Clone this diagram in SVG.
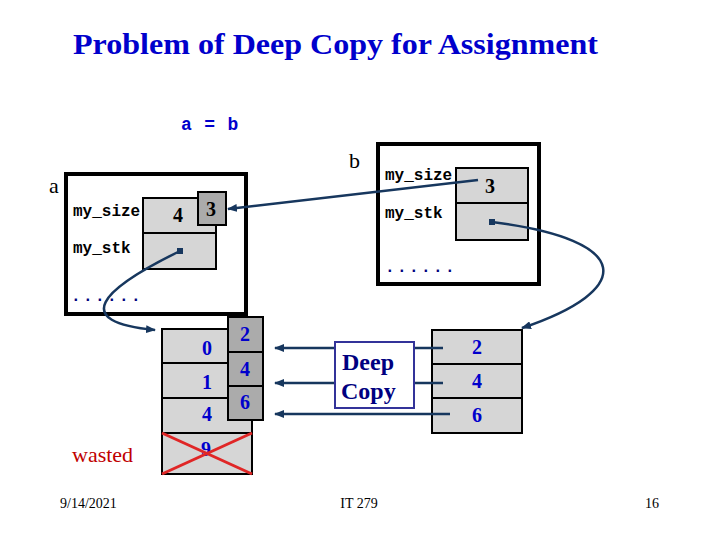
<svg xmlns="http://www.w3.org/2000/svg" width="720" height="540" viewBox="0 0 720 540">
<style>
.mono{font-family:"Liberation Mono","Courier New",monospace;font-weight:bold;font-size:16px;fill:#000}
.dots{font-family:"Liberation Mono","Courier New",monospace;font-weight:bold;font-size:16px;fill:#000080;letter-spacing:2.4px}
.num{font-family:"Liberation Serif","Times New Roman",serif;font-weight:bold;font-size:20px;text-anchor:middle}
.blue{fill:#0000cc}
.lbl{font-family:"Liberation Serif","Times New Roman",serif;font-size:22px;fill:#000}
.foot{font-family:"Liberation Serif","Times New Roman",serif;font-size:14px;fill:#000}
.serifb{font-family:"Liberation Serif","Times New Roman",serif;font-weight:bold}
.outer{fill:#fff;stroke:#000;stroke-width:4}
.cell{fill:#d6d6d6;stroke:#000;stroke-width:2}
.dark{fill:#ababab;stroke:#000;stroke-width:2}
.conn{fill:none;stroke:#17375e;stroke-width:2.5}
</style>
<defs>
<marker id="ah" markerUnits="userSpaceOnUse" markerWidth="10" markerHeight="8" refX="9" refY="4" orient="auto">
<path d="M0,0 L10,4 L0,8 Z" fill="#17375e"/>
</marker>
<marker id="dot" markerUnits="userSpaceOnUse" markerWidth="6" markerHeight="6" refX="3" refY="3">
<rect x="0" y="0" width="6" height="6" fill="#17375e"/>
</marker>
</defs>
<rect width="720" height="540" fill="#fff"/>
<text x="73" y="54" class="serifb" font-size="30" fill="#0000cc" textLength="525" lengthAdjust="spacingAndGlyphs">Problem of Deep Copy for Assignment</text>
<text x="181" y="130" font-family="Liberation Mono,Courier New,monospace" font-weight="bold" font-size="18" fill="#0000cc" letter-spacing="0.8">a = b</text>

<g id="objA">
<text x="49" y="193" class="lbl">a</text>
<rect x="66" y="174" width="180" height="140" class="outer"/>
<text x="73" y="216" class="mono">my_size</text>
<text x="73" y="253" class="mono">my_stk</text>
<rect x="143" y="198" width="73" height="35" class="cell"/>
<rect x="143" y="233" width="73" height="36" class="cell"/>
<text x="178" y="222" class="num">4</text>
<rect x="198" y="192" width="28" height="33" class="dark"/>
<text x="211" y="216" class="num">3</text>
<text x="71" y="301" class="dots">......</text>
</g>

<g id="objB">
<text x="349" y="168" class="lbl">b</text>
<rect x="378" y="144" width="161" height="140" class="outer"/>
<text x="385" y="180" class="mono">my_size</text>
<text x="385" y="218" class="mono">my_stk</text>
<rect x="456" y="168" width="72" height="35" class="cell"/>
<rect x="456" y="203" width="72" height="37" class="cell"/>
<text x="490" y="193" class="num">3</text>
<text x="385" y="272" class="dots">......</text>
</g>

<g id="leftArray">
<rect x="162" y="329" width="90" height="34" class="cell"/>
<rect x="162" y="363" width="90" height="35" class="cell"/>
<rect x="162" y="398" width="90" height="35" class="cell"/>
<rect x="162" y="433" width="90" height="41" class="cell"/>
<text x="207" y="355" class="num blue">0</text>
<text x="207" y="389" class="num blue">1</text>
<text x="207" y="421" class="num blue">4</text>
<text x="206" y="456" class="num blue">9</text>
<line x1="162" y1="433" x2="252" y2="474" stroke="#e02626" stroke-width="3"/>
<line x1="162" y1="474" x2="252" y2="433" stroke="#e02626" stroke-width="3"/>
</g>

<g id="overlayArray">
<rect x="228" y="317" width="35" height="35" class="dark"/>
<rect x="228" y="352" width="35" height="34" class="dark"/>
<rect x="228" y="386" width="35" height="34" class="dark"/>
<text x="245" y="341" class="num blue">2</text>
<text x="245" y="376" class="num blue">4</text>
<text x="245" y="409" class="num blue">6</text>
</g>

<g id="rightArray">
<rect x="432" y="330" width="90" height="34" class="cell"/>
<rect x="432" y="364" width="90" height="34" class="cell"/>
<rect x="432" y="398" width="90" height="35" class="cell"/>
<text x="477" y="354" class="num blue">2</text>
<text x="477" y="388" class="num blue">4</text>
<text x="477" y="422" class="num blue">6</text>
</g>

<g id="connectors">
<line x1="478" y1="180" x2="228" y2="209" class="conn" marker-end="url(#ah)"/>
<path d="M492,222 C635,240 635,290 522,328" class="conn" marker-start="url(#dot)" marker-end="url(#ah)"/>
<path d="M180,251 C100,290 70,322 155,330" class="conn" marker-start="url(#dot)" marker-end="url(#ah)"/>
<line x1="443" y1="348" x2="275" y2="348" class="conn" marker-end="url(#ah)"/>
<line x1="443" y1="383" x2="275" y2="383" class="conn" marker-end="url(#ah)"/>
<line x1="450" y1="414" x2="275" y2="414" class="conn" marker-end="url(#ah)"/>
</g>

<g id="deepCopy">
<rect x="335" y="342" width="79" height="66" fill="#fff" stroke="#333399" stroke-width="2"/>
<text x="342" y="370" class="serifb" font-size="24" fill="#000080">Deep</text>
<text x="341" y="399" class="serifb" font-size="24" fill="#000080">Copy</text>
</g>

<text x="72" y="462" font-family="Liberation Serif,Times New Roman,serif" font-size="22" fill="#c00000">wasted</text>
<text x="60" y="508" class="foot">9/14/2021</text>
<text x="359" y="508" class="foot" text-anchor="middle">IT 279</text>
<text x="645" y="508" class="foot">16</text>
</svg>
